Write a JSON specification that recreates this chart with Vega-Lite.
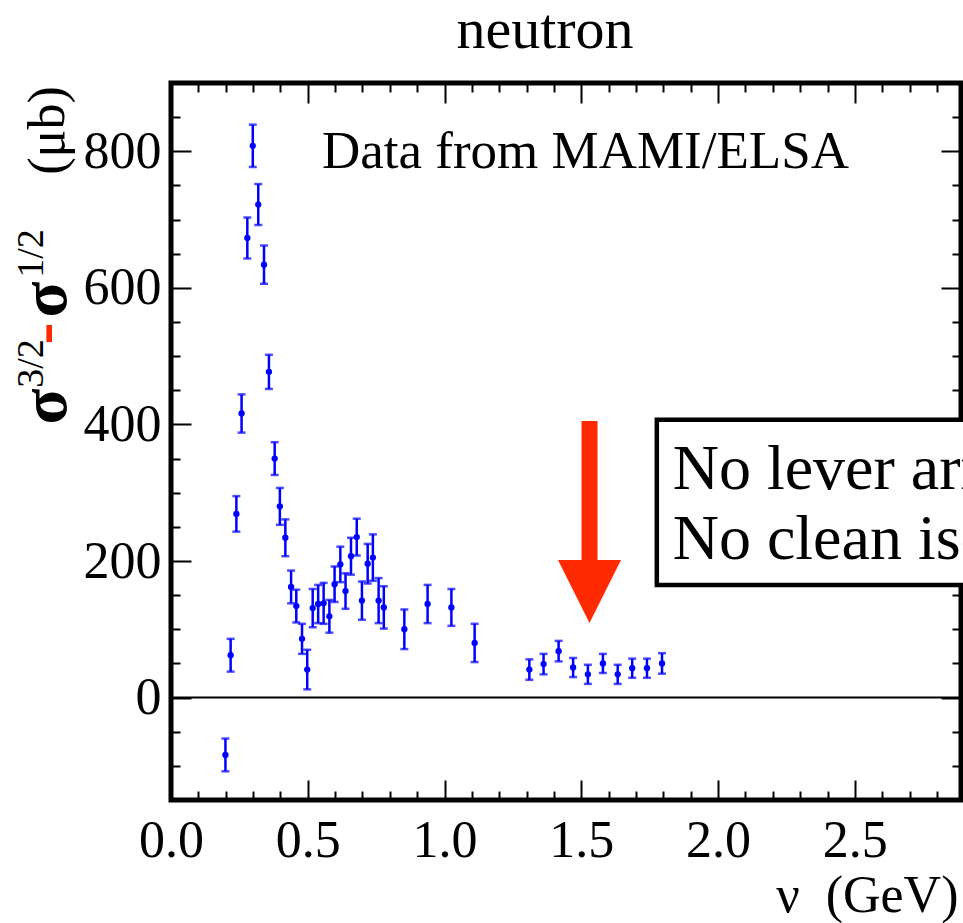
{
  "$schema": "https://vega.github.io/schema/vega-lite/v6.json",
  "width": 790,
  "height": 717,
  "autosize": "none",
  "padding": {"left": 171, "top": 83, "right": 2, "bottom": 123},
  "background": "white",
  "title": {"text": "neutron", "font": "Liberation Serif", "fontSize": 58, "fontWeight": "normal", "color": "black", "anchor": "middle", "frame": "group", "dx": -21, "offset": 22},
  "config": {
    "view": {"stroke": "black", "strokeWidth": 5},
    "axis": {"grid": false, "domain": false, "tickColor": "black", "tickWidth": 2, "labelFont": "Liberation Serif", "labelFontSize": 52, "labelColor": "black", "titleFont": "Liberation Serif", "titleFontSize": 52, "titleColor": "black", "titleFontWeight": "normal", "labelFlush": false, "labelOverlap": false, "labelBound": false}
  },
  "datasets": {
    "pts": [
      {"nu": 0.199, "val": -84, "lo": -108, "hi": -60},
      {"nu": 0.218, "val": 62, "lo": 38, "hi": 86},
      {"nu": 0.239, "val": 269, "lo": 243, "hi": 295},
      {"nu": 0.258, "val": 416, "lo": 388, "hi": 444},
      {"nu": 0.279, "val": 673, "lo": 643, "hi": 703},
      {"nu": 0.299, "val": 808, "lo": 777, "hi": 839},
      {"nu": 0.319, "val": 722, "lo": 692, "hi": 752},
      {"nu": 0.340, "val": 634, "lo": 606, "hi": 662},
      {"nu": 0.358, "val": 477, "lo": 452, "hi": 502},
      {"nu": 0.379, "val": 350, "lo": 326, "hi": 374},
      {"nu": 0.398, "val": 280, "lo": 253, "hi": 307},
      {"nu": 0.418, "val": 234, "lo": 207, "hi": 261},
      {"nu": 0.439, "val": 162, "lo": 138, "hi": 186},
      {"nu": 0.458, "val": 134, "lo": 110, "hi": 158},
      {"nu": 0.479, "val": 86, "lo": 64, "hi": 108},
      {"nu": 0.498, "val": 41, "lo": 12, "hi": 70},
      {"nu": 0.518, "val": 131, "lo": 103, "hi": 159},
      {"nu": 0.538, "val": 137, "lo": 109, "hi": 165},
      {"nu": 0.558, "val": 138, "lo": 108, "hi": 168},
      {"nu": 0.579, "val": 119, "lo": 95, "hi": 143},
      {"nu": 0.598, "val": 166, "lo": 140, "hi": 192},
      {"nu": 0.619, "val": 195, "lo": 169, "hi": 221},
      {"nu": 0.638, "val": 156, "lo": 130, "hi": 182},
      {"nu": 0.658, "val": 207, "lo": 180, "hi": 234},
      {"nu": 0.679, "val": 235, "lo": 208, "hi": 262},
      {"nu": 0.698, "val": 142, "lo": 114, "hi": 170},
      {"nu": 0.719, "val": 196, "lo": 167, "hi": 225},
      {"nu": 0.738, "val": 205, "lo": 171, "hi": 239},
      {"nu": 0.759, "val": 142, "lo": 109, "hi": 175},
      {"nu": 0.778, "val": 132, "lo": 101, "hi": 163},
      {"nu": 0.853, "val": 100, "lo": 71, "hi": 129},
      {"nu": 0.938, "val": 137, "lo": 109, "hi": 165},
      {"nu": 1.025, "val": 132, "lo": 105, "hi": 159},
      {"nu": 1.110, "val": 80, "lo": 52, "hi": 108},
      {"nu": 1.310, "val": 41, "lo": 26, "hi": 56},
      {"nu": 1.362, "val": 49, "lo": 34, "hi": 64},
      {"nu": 1.417, "val": 68, "lo": 53, "hi": 83},
      {"nu": 1.470, "val": 44, "lo": 30, "hi": 58},
      {"nu": 1.524, "val": 34, "lo": 20, "hi": 48},
      {"nu": 1.579, "val": 50, "lo": 36, "hi": 64},
      {"nu": 1.633, "val": 34, "lo": 20, "hi": 48},
      {"nu": 1.686, "val": 43, "lo": 29, "hi": 57},
      {"nu": 1.740, "val": 43, "lo": 29, "hi": 57},
      {"nu": 1.795, "val": 50, "lo": 35, "hi": 65}
    ],
    "zero": [{"v": 0}],
    "shaft": [{"nu": 1.530, "top": 405, "bottom": 190}],
    "head": [{"nu": 1.530, "val": 155.5}],
    "box": [{"x1": 1.776, "x2": 3.6, "y1": 164.7, "y2": 406.7}],
    "boxtext": [
      {"nu": 1.834, "val": 305.8, "label": "No lever arm"},
      {"nu": 1.834, "val": 203.4, "label": "No clean isospin"}
    ],
    "note": [{"nu": 0.552, "val": 776, "label": "Data from MAMI/ELSA"}]
  },
  "layer": [
    {
      "data": {"name": "pts"},
      "mark": {"type": "rule", "color": "#0000ff", "strokeWidth": 2.5},
      "encoding": {
        "x": {"field": "nu", "type": "quantitative", "scale": {"domain": [0, 2.888], "nice": false, "zero": false},
              "axis": {"orient": "bottom", "values": [0, 0.5, 1, 1.5, 2, 2.5], "format": ".1f", "tickSize": -20, "labelPadding": 35,
                       "title": "ν\u00a0\u00a0(GeV)", "titleX": 787, "titleY": 111, "titleAlign": "right", "titleBaseline": "alphabetic", "titleAnchor": null}},
        "y": {"field": "lo", "type": "quantitative", "scale": {"domain": [-150, 900], "nice": false, "zero": false},
              "axis": {"orient": "left", "values": [0, 200, 400, 600, 800], "format": "d", "tickSize": -20, "labelPadding": 30,
                       "title": "(μb)", "titleX": -124, "titleY": 47, "titleAngle": -90, "titleAlign": "center", "titleBaseline": "middle", "titleAnchor": null}},
        "y2": {"field": "hi"}
      }
    },
    {
      "data": {"name": "pts"},
      "mark": {"type": "tick", "orient": "horizontal", "color": "#0000ff", "size": 8, "thickness": 2.5},
      "encoding": {
        "x": {"field": "nu", "type": "quantitative", "scale": {"domain": [0, 2.888], "nice": false, "zero": false},
              "axis": {"orient": "bottom", "values": [0.1, 0.2, 0.3, 0.4, 0.6, 0.7, 0.8, 0.9, 1.1, 1.2, 1.3, 1.4, 1.6, 1.7, 1.8, 1.9, 2.1, 2.2, 2.3, 2.4, 2.6, 2.7, 2.8], "tickSize": -9, "labels": false, "title": null}},
        "y": {"field": "lo", "type": "quantitative", "scale": {"domain": [-150, 900], "nice": false, "zero": false},
              "axis": {"orient": "left", "values": [-100, -50, 50, 100, 150, 250, 300, 350, 450, 500, 550, 650, 700, 750, 850], "tickSize": -9, "labels": false,
                       "title": "σ", "titleFontSize": 66, "titleFontWeight": "bold", "titleX": -126, "titleY": 323, "titleAngle": -90, "titleAlign": "center", "titleBaseline": "middle", "titleAnchor": null}}
      }
    },
    {
      "data": {"name": "pts"},
      "mark": {"type": "tick", "orient": "horizontal", "color": "#0000ff", "size": 8, "thickness": 2.5},
      "encoding": {
        "x": {"field": "nu", "type": "quantitative", "scale": {"domain": [0, 2.888], "nice": false, "zero": false},
              "axis": {"orient": "top", "values": [0.5, 1, 1.5, 2, 2.5], "tickSize": -20, "labels": false, "title": null}},
        "y": {"field": "hi", "type": "quantitative", "scale": {"domain": [-150, 900], "nice": false, "zero": false},
              "axis": {"orient": "right", "values": [0, 200, 400, 600, 800], "tickSize": -20, "labels": false, "title": null}}
      }
    },
    {
      "data": {"name": "pts"},
      "mark": {"type": "point", "filled": true, "shape": "circle", "color": "#0000ff", "size": 40, "opacity": 1},
      "encoding": {
        "x": {"field": "nu", "type": "quantitative", "scale": {"domain": [0, 2.888], "nice": false, "zero": false},
              "axis": {"orient": "top", "values": [0.1, 0.2, 0.3, 0.4, 0.6, 0.7, 0.8, 0.9, 1.1, 1.2, 1.3, 1.4, 1.6, 1.7, 1.8, 1.9, 2.1, 2.2, 2.3, 2.4, 2.6, 2.7, 2.8], "tickSize": -9, "labels": false, "title": null}},
        "y": {"field": "val", "type": "quantitative", "scale": {"domain": [-150, 900], "nice": false, "zero": false},
              "axis": {"orient": "right", "values": [-100, -50, 50, 100, 150, 250, 300, 350, 450, 500, 550, 650, 700, 750, 850], "tickSize": -9, "labels": false, "title": null}}
      }
    },
    {
      "data": {"name": "zero"},
      "mark": {"type": "rule", "color": "black", "strokeWidth": 2},
      "encoding": {
        "y": {"field": "v", "type": "quantitative", "scale": {"domain": [-150, 900], "nice": false, "zero": false},
              "axis": {"orient": "left", "ticks": false, "labels": false,
                       "title": "3/2", "titleFontSize": 38, "titleX": -140, "titleY": 280, "titleAngle": -90, "titleAlign": "center", "titleBaseline": "middle", "titleAnchor": null}}
      }
    },
    {
      "data": {"name": "shaft"},
      "mark": {"type": "rule", "color": "#ff2a00", "strokeWidth": 16, "strokeCap": "butt"},
      "encoding": {
        "x": {"field": "nu", "type": "quantitative", "scale": {"domain": [0, 2.888], "nice": false, "zero": false}, "axis": null},
        "y": {"field": "top", "type": "quantitative", "scale": {"domain": [-150, 900], "nice": false, "zero": false},
              "axis": {"orient": "left", "ticks": false, "labels": false,
                       "title": "-", "titleColor": "#ff2a00", "titleFontSize": 66, "titleFontWeight": "bold", "titleX": -127, "titleY": 250, "titleAngle": -90, "titleAlign": "center", "titleBaseline": "middle", "titleAnchor": null}},
        "y2": {"field": "bottom"}
      }
    },
    {
      "data": {"name": "head"},
      "mark": {"type": "point", "filled": true, "shape": "M -1 -1 L 1 -1 L 0 1 Z", "color": "#ff2a00", "size": 3969, "opacity": 1, "strokeWidth": 0},
      "encoding": {
        "x": {"field": "nu", "type": "quantitative", "scale": {"domain": [0, 2.888], "nice": false, "zero": false}, "axis": null},
        "y": {"field": "val", "type": "quantitative", "scale": {"domain": [-150, 900], "nice": false, "zero": false},
              "axis": {"orient": "left", "ticks": false, "labels": false,
                       "title": "σ", "titleFontSize": 66, "titleFontWeight": "bold", "titleX": -126, "titleY": 216, "titleAngle": -90, "titleAlign": "center", "titleBaseline": "middle", "titleAnchor": null}}
      }
    },
    {
      "data": {"name": "box"},
      "mark": {"type": "rect", "fill": "white", "stroke": "black", "strokeWidth": 4.5},
      "encoding": {
        "x": {"field": "x1", "type": "quantitative", "scale": {"domain": [0, 2.888], "nice": false, "zero": false}, "axis": null},
        "x2": {"field": "x2"},
        "y": {"field": "y1", "type": "quantitative", "scale": {"domain": [-150, 900], "nice": false, "zero": false},
              "axis": {"orient": "left", "ticks": false, "labels": false,
                       "title": "1/2", "titleFontSize": 38, "titleX": -140, "titleY": 170, "titleAngle": -90, "titleAlign": "center", "titleBaseline": "middle", "titleAnchor": null}},
        "y2": {"field": "y2"}
      }
    },
    {
      "data": {"name": "boxtext"},
      "mark": {"type": "text", "align": "left", "baseline": "alphabetic", "font": "Liberation Serif", "fontSize": 64, "color": "black"},
      "encoding": {
        "x": {"field": "nu", "type": "quantitative", "scale": {"domain": [0, 2.888], "nice": false, "zero": false}, "axis": null},
        "y": {"field": "val", "type": "quantitative", "scale": {"domain": [-150, 900], "nice": false, "zero": false}, "axis": null},
        "text": {"field": "label"}
      }
    },
    {
      "data": {"name": "note"},
      "mark": {"type": "text", "align": "left", "baseline": "alphabetic", "font": "Liberation Serif", "fontSize": 53, "color": "black"},
      "encoding": {
        "x": {"field": "nu", "type": "quantitative", "scale": {"domain": [0, 2.888], "nice": false, "zero": false}, "axis": null},
        "y": {"field": "val", "type": "quantitative", "scale": {"domain": [-150, 900], "nice": false, "zero": false}, "axis": null},
        "text": {"field": "label"}
      }
    }
  ],
  "resolve": {"axis": {"x": "independent", "y": "independent"}}
}
